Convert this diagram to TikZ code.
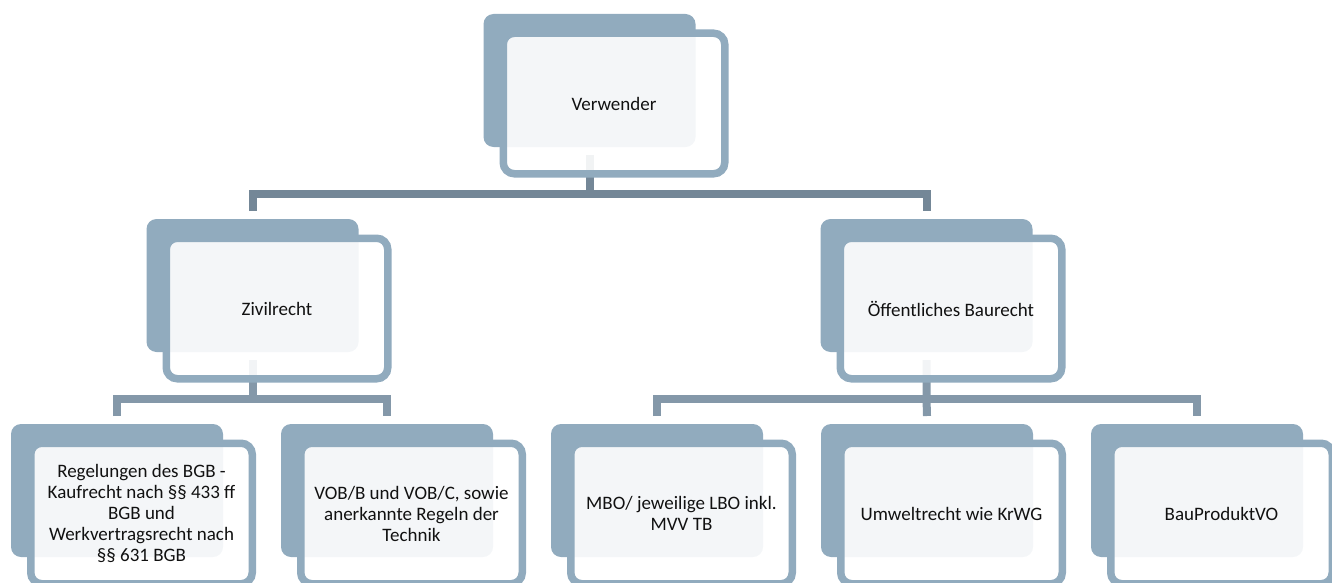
\documentclass[tikz,border=0pt]{standalone}
\usepackage{fontspec}
\setmainfont{Carlito}
\definecolor{boxblue}{HTML}{91ABBE}
\definecolor{conndark}{HTML}{748797}
\definecolor{connlight}{HTML}{8498A9}
\definecolor{txt}{HTML}{111111}
\tikzset{
  backbox/.style={fill=boxblue, rounded corners=10pt, minimum width=212pt, minimum height=133pt, inner sep=0pt, outer sep=0pt},
  frontbox/.style={draw=boxblue, line width=7.5pt, fill=white, fill opacity=0.9, text opacity=1, rounded corners=11pt,
    minimum width=221.5pt, minimum height=140.5pt, inner sep=0pt, outer sep=0pt, align=center, text=txt,
    font=\fontsize{19}{21}\selectfont},
  conntop/.style={draw=conndark, line width=8pt},
  connlow/.style={draw=connlight, line width=8pt}
}
\begin{document}
\begin{tikzpicture}[x=1pt,y=1pt]
\useasboundingbox (0,0) rectangle (1332,-583);
\clip (0,0) rectangle (1332,-583);
% back boxes
\node[backbox] (Vb) at (589.5,-80.5) {};
\node[backbox] (Zb) at (252.5,-285.5) {};
\node[backbox] (Ob) at (926.5,-285.5) {};
\node[backbox] (B1b) at (117,-490.5) {};
\node[backbox] (B2b) at (387,-490.5) {};
\node[backbox] (B3b) at (657,-490.5) {};
\node[backbox] (B4b) at (927,-490.5) {};
\node[backbox] (B5b) at (1197,-490.5) {};
% bus coordinates
\coordinate (busA) at (589.5,-194);
\coordinate (busB) at (252.5,-399);
\coordinate (busC) at (926.5,-399);
% connectors
\draw[conntop] ([yshift=-8pt]Vb.south) -- (busA);
\draw[conntop] ([yshift=8pt]Zb.north) |- (busA) -| ([yshift=8pt]Ob.north);
\draw[connlow] ([yshift=-8pt]Zb.south) -- (busB);
\draw[connlow] ([yshift=8pt]B1b.north) |- (busB) -| ([yshift=8pt]B2b.north);
\draw[connlow] ([yshift=-8pt]Ob.south) -- (busC) -- ([yshift=8pt]B4b.north);
\draw[connlow] ([yshift=8pt]B3b.north) |- (busC) -| ([yshift=8pt]B5b.north);
% front boxes
\node[frontbox] (V) at (614,-103.5) {Verwender};
\node[frontbox] (Z) at (277,-308.5) {Zivilrecht};
\node[frontbox] (O) at (951,-308.5) {Öffentliches Baurecht};
\node[frontbox] (B1) at (141.5,-513.5) {Regelungen des BGB -\\Kaufrecht nach §§ 433 ff\\BGB und\\Werkvertragsrecht nach\\§§ 631 BGB};
\node[frontbox] (B2) at (411.5,-513.5) {VOB/B und VOB/C, sowie\\anerkannte Regeln der\\Technik};
\node[frontbox] (B3) at (681.5,-513.5) {MBO/ jeweilige LBO inkl.\\MVV TB};
\node[frontbox] (B4) at (951.5,-513.5) {Umweltrecht wie KrWG};
\node[frontbox] (B5) at (1221.5,-513.5) {BauProduktVO};
\end{tikzpicture}
\end{document}
